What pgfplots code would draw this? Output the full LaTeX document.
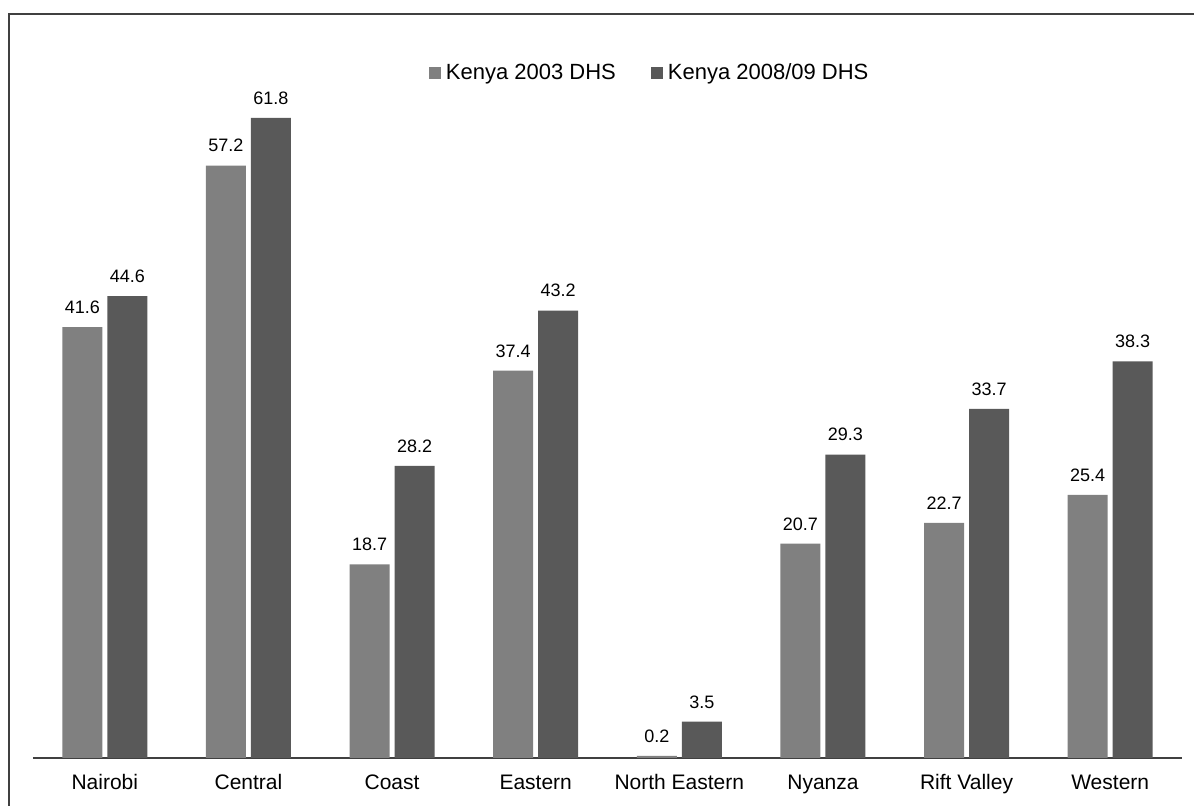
\documentclass[border=0pt]{standalone}
\usepackage{pgfplots}
\pgfplotsset{compat=1.18}
\usepackage{fontspec}
\setmainfont{Liberation Sans}

\definecolor{dhsold}{HTML}{808080}
\definecolor{dhsnew}{HTML}{595959}
\definecolor{framegray}{HTML}{404040}

\begin{document}
\begin{tikzpicture}
    \useasboundingbox (-16.5pt,-24pt) rectangle (580.5pt,379pt);
    % outer frame (top and left edges only are visible)
    \draw[framegray, line width=0.75pt] (580.5pt,372pt) -- (-12pt,372pt) -- (-12pt,-24pt);

    \begin{axis}[
        scale only axis,
        width  = 574.5pt,
        height = 362.5pt,
        at={(0pt,0pt)}, anchor=south west,
        ybar=2.5pt,
        bar width=20pt,
        xmin=-0.5, xmax=7.5,
        ymin=0, ymax=70,
        hide y axis,
        axis x line*=bottom,
        x axis line style={framegray, line width=0.6pt},
        xtick=data,
        xticklabels={Nairobi, Central, Coast, Eastern, North Eastern, Nyanza, Rift Valley, Western},
        major tick length=0pt,
        typeset ticklabels with strut,
        xticklabel style={font=\fontsize{10.5}{12}\selectfont, yshift=-4pt},
        /pgf/number format/assume math mode=true,
        nodes near coords={\pgfmathprintnumber[fixed,fixed zerofill,precision=1]{\pgfplotspointmeta}},
        every node near coord/.append style={font=\fontsize{9}{11}\selectfont, anchor=south, inner sep=1pt, yshift=5.5pt},
        legend columns=2,
        legend cell align=left,
        legend style={
            at={(0.538,0.945)}, anchor=center,
            draw=none, fill=none,
            font=\fontsize{11}{13}\selectfont,
            column sep=0pt,
            nodes={inner sep=2.5pt},
            /tikz/every even column/.append style={column sep=15pt}
        }
    ]
        \addplot[fill=dhsold, draw=none,
            legend image code/.code={\fill[dhsold] (0pt,-3pt) rectangle (6pt,3pt);}]
            coordinates {
                (0, 41.6)
                (1, 57.2)
                (2, 18.7)
                (3, 37.4)
                (4, 0.2)
                (5, 20.7)
                (6, 22.7)
                (7, 25.4)
            };
        \addplot[fill=dhsnew, draw=none,
            legend image code/.code={\fill[dhsnew] (0pt,-3pt) rectangle (6pt,3pt);}]
            coordinates {
                (0, 44.6)
                (1, 61.8)
                (2, 28.2)
                (3, 43.2)
                (4, 3.5)
                (5, 29.3)
                (6, 33.7)
                (7, 38.3)
            };
        \legend{Kenya 2003 DHS, Kenya 2008/09 DHS}
    \end{axis}
\end{tikzpicture}
\end{document}
